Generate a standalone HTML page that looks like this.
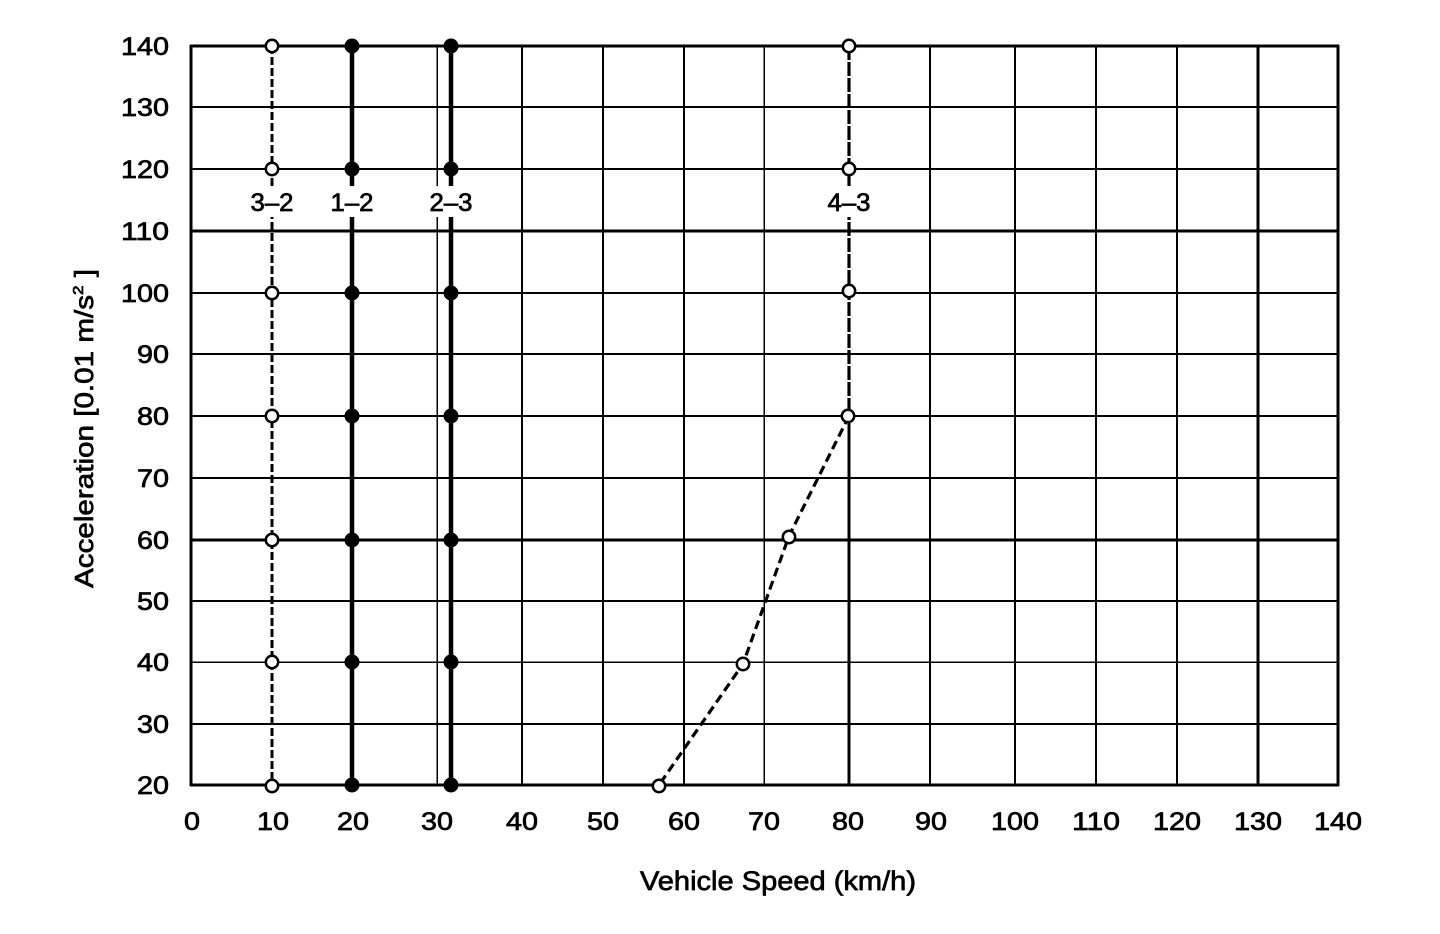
<!DOCTYPE html>
<html>
<head>
<meta charset="utf-8">
<style>
html,body{margin:0;padding:0;background:#fff;}
svg{display:block;}
text{font-family:"Liberation Sans",Arial,sans-serif;fill:#000;stroke:#000;stroke-width:0.7px;}
</style>
</head>
<body>
<svg width="1440" height="934" viewBox="0 0 1440 934" xmlns="http://www.w3.org/2000/svg">
<rect x="0" y="0" width="1440" height="934" fill="#fff"/>
<g stroke="#000" shape-rendering="crispEdges">
  <!-- horizontal grid -->
  <line x1="190" y1="46" x2="1339" y2="46" stroke-width="3"/>
  <line x1="190" y1="107" x2="1339" y2="107" stroke-width="2"/>
  <line x1="190" y1="169" x2="1339" y2="169" stroke-width="2"/>
  <line x1="190" y1="231" x2="1339" y2="231" stroke-width="3"/>
  <line x1="190" y1="293" x2="1339" y2="293" stroke-width="2"/>
  <line x1="190" y1="354" x2="1339" y2="354" stroke-width="2"/>
  <line x1="190" y1="416" x2="1339" y2="416" stroke-width="2"/>
  <line x1="190" y1="478" x2="1339" y2="478" stroke-width="2"/>
  <line x1="190" y1="540" x2="1339" y2="540" stroke-width="3"/>
  <line x1="190" y1="601" x2="1339" y2="601" stroke-width="2"/>
  <line x1="190" y1="662" x2="1339" y2="662" stroke-width="1.5"/>
  <line x1="190" y1="724" x2="1339" y2="724" stroke-width="2"/>
  <line x1="190" y1="785" x2="1339" y2="785" stroke-width="3"/>
  <!-- vertical grid -->
  <line x1="191" y1="45" x2="191" y2="786" stroke-width="3"/>
  <line x1="437" y1="45" x2="437" y2="786" stroke-width="1.5"/>
  <line x1="522" y1="45" x2="522" y2="786" stroke-width="2"/>
  <line x1="603" y1="45" x2="603" y2="786" stroke-width="2"/>
  <line x1="684" y1="45" x2="684" y2="786" stroke-width="2"/>
  <line x1="764" y1="45" x2="764" y2="786" stroke-width="1.5"/>
  <line x1="849" y1="416" x2="849" y2="786" stroke-width="3"/>
  <line x1="930" y1="45" x2="930" y2="786" stroke-width="2"/>
  <line x1="1015" y1="45" x2="1015" y2="786" stroke-width="2"/>
  <line x1="1096" y1="45" x2="1096" y2="786" stroke-width="2"/>
  <line x1="1177" y1="45" x2="1177" y2="786" stroke-width="2"/>
  <line x1="1258" y1="45" x2="1258" y2="786" stroke-width="3"/>
  <line x1="1338" y1="45" x2="1338" y2="786" stroke-width="3"/>
</g>

<!-- series lines -->
<g stroke="#000" fill="none">
  <line x1="272" y1="46" x2="272" y2="785" stroke-width="3" stroke-dasharray="8 3"/>
  <line x1="352" y1="46" x2="352" y2="785" stroke-width="4.5"/>
  <line x1="451" y1="46" x2="451" y2="785" stroke-width="4.5"/>
  <line x1="849" y1="46" x2="849" y2="416" stroke-width="3.2" stroke-dasharray="14 2"/>
  <polyline points="849,416 789,536 743,664 659,785" stroke-width="3.2" stroke-dasharray="9 5"/>
</g>

<!-- label gaps -->
<g fill="#fff">
  <rect x="248" y="186" width="48" height="31"/>
  <rect x="328" y="186" width="48" height="31"/>
  <rect x="427" y="186" width="48" height="31"/>
  <rect x="825" y="186" width="48" height="31"/>
</g>
<g font-size="25" text-anchor="middle">
  <text x="272" y="211" textLength="43" lengthAdjust="spacingAndGlyphs">3–2</text>
  <text x="352" y="211" textLength="43" lengthAdjust="spacingAndGlyphs">1–2</text>
  <text x="451" y="211" textLength="43" lengthAdjust="spacingAndGlyphs">2–3</text>
  <text x="849" y="211" textLength="43" lengthAdjust="spacingAndGlyphs">4–3</text>
</g>

<!-- markers -->
<g fill="#000">
  <circle cx="352" cy="46" r="7.5"/><circle cx="352" cy="169" r="7.5"/><circle cx="352" cy="293" r="7.5"/>
  <circle cx="352" cy="416" r="7.5"/><circle cx="352" cy="540" r="7.5"/><circle cx="352" cy="662" r="7.5"/>
  <circle cx="352" cy="785" r="7.5"/>
  <circle cx="451" cy="46" r="7.5"/><circle cx="451" cy="169" r="7.5"/><circle cx="451" cy="293" r="7.5"/>
  <circle cx="451" cy="416" r="7.5"/><circle cx="451" cy="540" r="7.5"/><circle cx="451" cy="662" r="7.5"/>
  <circle cx="451" cy="785" r="7.5"/>
</g>
<g fill="#fff" stroke="#000" stroke-width="2.5">
  <circle cx="272" cy="46" r="6.2"/><circle cx="272" cy="169" r="6.2"/><circle cx="272" cy="293" r="6.2"/>
  <circle cx="272" cy="416" r="6.2"/><circle cx="272" cy="540" r="6.2"/><circle cx="272" cy="662" r="6.2"/>
  <circle cx="272" cy="786" r="6.2"/>
  <circle cx="849" cy="46" r="6.2"/><circle cx="849" cy="169" r="6.2"/><circle cx="849" cy="291" r="6.2"/>
  <circle cx="848" cy="416" r="6.2"/>
  <circle cx="789" cy="537" r="6.2"/><circle cx="743" cy="664" r="6.2"/><circle cx="659" cy="786" r="6.2"/>
</g>

<!-- y tick labels -->
<g font-size="25" text-anchor="end">
  <text x="169" y="55" textLength="48" lengthAdjust="spacingAndGlyphs">140</text>
  <text x="169" y="116" textLength="48" lengthAdjust="spacingAndGlyphs">130</text>
  <text x="169" y="178" textLength="48" lengthAdjust="spacingAndGlyphs">120</text>
  <text x="169" y="240" textLength="48" lengthAdjust="spacingAndGlyphs">110</text>
  <text x="169" y="302" textLength="48" lengthAdjust="spacingAndGlyphs">100</text>
  <text x="169" y="363" textLength="32" lengthAdjust="spacingAndGlyphs">90</text>
  <text x="169" y="425" textLength="32" lengthAdjust="spacingAndGlyphs">80</text>
  <text x="169" y="487" textLength="32" lengthAdjust="spacingAndGlyphs">70</text>
  <text x="169" y="549" textLength="32" lengthAdjust="spacingAndGlyphs">60</text>
  <text x="169" y="610" textLength="32" lengthAdjust="spacingAndGlyphs">50</text>
  <text x="169" y="671" textLength="32" lengthAdjust="spacingAndGlyphs">40</text>
  <text x="169" y="733" textLength="32" lengthAdjust="spacingAndGlyphs">30</text>
  <text x="169" y="794" textLength="32" lengthAdjust="spacingAndGlyphs">20</text>
</g>

<!-- x tick labels -->
<g font-size="25" text-anchor="middle">
  <text x="192" y="830" textLength="16" lengthAdjust="spacingAndGlyphs">0</text>
  <text x="273" y="830" textLength="32" lengthAdjust="spacingAndGlyphs">10</text>
  <text x="353" y="830" textLength="32" lengthAdjust="spacingAndGlyphs">20</text>
  <text x="437" y="830" textLength="32" lengthAdjust="spacingAndGlyphs">30</text>
  <text x="522" y="830" textLength="32" lengthAdjust="spacingAndGlyphs">40</text>
  <text x="603" y="830" textLength="32" lengthAdjust="spacingAndGlyphs">50</text>
  <text x="684" y="830" textLength="32" lengthAdjust="spacingAndGlyphs">60</text>
  <text x="764" y="830" textLength="32" lengthAdjust="spacingAndGlyphs">70</text>
  <text x="848" y="830" textLength="32" lengthAdjust="spacingAndGlyphs">80</text>
  <text x="931" y="830" textLength="32" lengthAdjust="spacingAndGlyphs">90</text>
  <text x="1015" y="830" textLength="48" lengthAdjust="spacingAndGlyphs">100</text>
  <text x="1096" y="830" textLength="48" lengthAdjust="spacingAndGlyphs">110</text>
  <text x="1177" y="830" textLength="48" lengthAdjust="spacingAndGlyphs">120</text>
  <text x="1258" y="830" textLength="48" lengthAdjust="spacingAndGlyphs">130</text>
  <text x="1338" y="830" textLength="48" lengthAdjust="spacingAndGlyphs">140</text>
</g>

<!-- axis titles -->
<text x="640" y="890" font-size="27" textLength="276" lengthAdjust="spacingAndGlyphs">Vehicle Speed (km/h)</text>
<g transform="translate(93,588) rotate(-90) scale(1.14,1)">
  <text x="0" y="0" font-size="26">Acceleration [0.01 m/s<tspan dy="-10" font-size="15">2</tspan><tspan dy="10"> ]</tspan></text>
</g>
</svg>
</body>
</html>
